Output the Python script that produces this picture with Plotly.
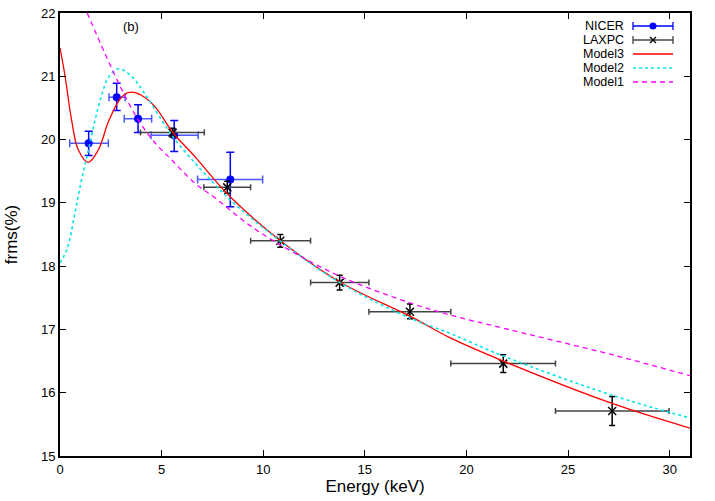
import plotly.graph_objects as go

# ---------------- data ----------------
nicer_x = [1.41, 2.79, 3.84, 5.62, 8.38]
nicer_xlo = [0.48, 2.41, 3.16, 4.48, 6.77]
nicer_xhi = [2.38, 3.20, 4.51, 6.80, 9.97]
nicer_y = [19.94, 20.67, 20.33, 20.07, 19.37]
nicer_ylo = [19.75, 20.46, 20.11, 19.81, 18.94]
nicer_yhi = [20.13, 20.89, 20.55, 20.30, 19.80]

laxpc_x = [5.54, 8.23, 10.84, 13.76, 17.22, 21.81, 27.17]
laxpc_xlo = [3.96, 7.08, 9.38, 12.33, 15.20, 19.23, 24.38]
laxpc_xhi = [7.10, 9.38, 12.33, 15.20, 19.23, 24.38, 29.97]
laxpc_y = [20.11, 19.245, 18.40, 17.74, 17.28, 16.46, 15.71]
laxpc_ylo = [20.04, 19.15, 18.30, 17.625, 17.17, 16.32, 15.48]
laxpc_yhi = [20.18, 19.34, 18.50, 17.855, 17.40, 16.60, 15.94]

model3_x = [0.0, 0.25, 0.57, 0.9, 1.39, 1.89, 2.38, 2.87, 3.2, 3.52, 4.0, 4.67, 5.58,
            6.64, 7.62, 8.36, 10.82, 13.77, 17.22, 19.18, 21.81, 27.17, 31.0]
model3_y = [21.45, 21.0, 20.31, 19.84, 19.64, 19.84, 20.28, 20.60, 20.72, 20.75, 20.70, 20.52, 20.10,
            19.73, 19.36, 19.10, 18.41, 17.75, 17.21, 16.87, 16.50, 15.83, 15.44]

model2_x = [0.0, 0.36, 0.74, 1.07, 1.39, 1.72, 2.05, 2.38, 2.87, 3.52, 4.18, 5.0,
            5.66, 6.64, 7.62, 8.36, 10.82, 13.77, 17.22, 19.18, 21.81, 27.17, 31.0]
model2_y = [18.05, 18.28, 18.85, 19.38, 19.82, 20.30, 20.70, 20.98, 21.12, 21.0, 20.72, 20.31,
            20.0, 19.63, 19.29, 19.05, 18.40, 17.74, 17.18, 16.94, 16.58, 15.96, 15.60]

model1_x = [1.34, 2.21, 3.04, 3.85, 4.67, 5.49, 6.64, 7.62, 9.18, 10.82,
            13.77, 17.22, 19.18, 21.81, 27.17, 31.0]
model1_y = [22.0, 21.36, 20.79, 20.31, 19.95, 19.68, 19.31, 19.08, 18.68, 18.34,
            17.84, 17.42, 17.23, 17.02, 16.60, 16.27]

x_ticks = [0, 5, 10, 15, 20, 25, 30]
y_ticks = [15, 16, 17, 18, 19, 20, 21, 22]
legend_labels = ["NICER", "LAXPC", "Model3", "Model2", "Model1"]

FONT = "Liberation Sans, Arial, Helvetica, sans-serif"

fig = go.Figure()

fig.add_trace(go.Scatter(
    x=nicer_x, y=nicer_y, mode="markers",
    marker=dict(symbol="circle", size=8, color="#0000ff"),
    error_x=dict(type="data", symmetric=False,
                 array=[h - c for h, c in zip(nicer_xhi, nicer_x)],
                 arrayminus=[c - l for l, c in zip(nicer_xlo, nicer_x)],
                 color="#4a5aff", thickness=1.5, width=4),
    error_y=dict(type="data", symmetric=False,
                 array=[h - c for h, c in zip(nicer_yhi, nicer_y)],
                 arrayminus=[c - l for l, c in zip(nicer_ylo, nicer_y)],
                 color="#0000ff", thickness=1.5, width=4),
    showlegend=False, hoverinfo="skip"))

fig.add_trace(go.Scatter(
    x=laxpc_x, y=laxpc_y, mode="markers",
    marker=dict(symbol="x-thin", size=8, color="black", line=dict(color="black", width=1.5)),
    error_x=dict(type="data", symmetric=False,
                 array=[h - c for h, c in zip(laxpc_xhi, laxpc_x)],
                 arrayminus=[c - l for l, c in zip(laxpc_xlo, laxpc_x)],
                 color="#444444", thickness=1.5, width=3),
    error_y=dict(type="data", symmetric=False,
                 array=[h - c for h, c in zip(laxpc_yhi, laxpc_y)],
                 arrayminus=[c - l for l, c in zip(laxpc_ylo, laxpc_y)],
                 color="black", thickness=1.5, width=3),
    showlegend=False, hoverinfo="skip"))

fig.add_trace(go.Scatter(x=model3_x, y=model3_y, mode="lines",
                         line=dict(color="#ff0000", width=1.3, shape="spline", smoothing=1.0),
                         showlegend=False, hoverinfo="skip"))
fig.add_trace(go.Scatter(x=model2_x, y=model2_y, mode="lines",
                         line=dict(color="#00e5e5", width=1.6, dash="dot", shape="spline", smoothing=1.0),
                         showlegend=False, hoverinfo="skip"))
fig.add_trace(go.Scatter(x=model1_x, y=model1_y, mode="lines",
                         line=dict(color="#ff00ff", width=1.3, dash="5px,4px", shape="spline", smoothing=1.0),
                         showlegend=False, hoverinfo="skip"))

# ---------------- custom gnuplot-style key (page pixel positions) ----------------
W_PLOT, H_PLOT, L, B = 630.0, 443.0, 60.0, 456.0
def px(xp):
    return (xp - L) / W_PLOT
def py(yp):
    return (B - yp) / H_PLOT

rows = [26, 40, 54, 68, 82]
x_text = 626
xs0, xs1 = 633, 673
shapes = []
annotations = []
for lab, r in zip(legend_labels, rows):
    annotations.append(dict(x=px(x_text), y=py(r), xref="paper", yref="paper",
                            text=lab, showarrow=False, xanchor="right", yanchor="middle",
                            font=dict(family=FONT, size=12.5, color="black")))

def seg(x0, y0, x1, y1, color, width, dash="solid"):
    shapes.append(dict(type="line", xref="paper", yref="paper",
                       x0=px(x0), y0=py(y0), x1=px(x1), y1=py(y1),
                       line=dict(color=color, width=width, dash=dash)))

# NICER key
r = rows[0]
seg(xs0, r, xs1, r, "#0000ff", 1.3)
seg(xs0, r - 4, xs0, r + 4, "#0000ff", 1.3)
seg(xs1, r - 4, xs1, r + 4, "#0000ff", 1.3)
shapes.append(dict(type="circle", xref="paper", yref="paper",
                   x0=px(653 - 3.5), x1=px(653 + 3.5), y0=py(r + 3.5), y1=py(r - 3.5),
                   fillcolor="#0000ff", line=dict(color="#0000ff", width=0)))
# LAXPC key
r = rows[1]
seg(xs0, r, xs1, r, "#444444", 1.3)
seg(xs0, r - 4, xs0, r + 4, "#444444", 1.3)
seg(xs1, r - 4, xs1, r + 4, "#444444", 1.3)
seg(650, r - 3, 656, r + 3, "black", 1.2)
seg(650, r + 3, 656, r - 3, "black", 1.2)
# model keys
seg(xs0, rows[2], xs1, rows[2], "#ff0000", 1.3)
seg(xs0, rows[3], xs1, rows[3], "#00e5e5", 1.6, "dot")
seg(xs0, rows[4], xs1, rows[4], "#ff00ff", 1.3, "5px,4px")

annotations.append(dict(x=3.5, y=21.78, xref="x", yref="y", text="(b)", showarrow=False,
                        font=dict(family=FONT, size=13, color="black")))

axis_common = dict(showline=True, linecolor="black", linewidth=2, mirror="ticks",
                   ticks="inside", ticklen=6, tickwidth=1.2, tickcolor="black",
                   showgrid=False, zeroline=False, ticklabeloverflow="allow",
                   tickfont=dict(family=FONT, size=13, color="black"))

fig.update_layout(
    width=715, height=501,
    margin=dict(l=60, r=25, t=13, b=45),
    paper_bgcolor="white", plot_bgcolor="white",
    hovermode=False,
    xaxis=dict(range=[0, 31], tickvals=x_ticks, ticktext=[str(v) for v in x_ticks],
               title=dict(text="Energy (keV)", font=dict(family=FONT, size=17, color="black"), standoff=4),
               automargin=False, **axis_common),
    yaxis=dict(range=[15, 22], tickvals=y_ticks, ticktext=[str(v) for v in y_ticks],
               title=dict(text="frms(%)", font=dict(family=FONT, size=17, color="black"), standoff=19),
               automargin=False, **axis_common),
    shapes=shapes, annotations=annotations,
    font=dict(family=FONT, size=13, color="black"),
)

fig.write_html("out.html", config={"displayModeBar": False},
               post_script="document.body.style.margin='0px';")
